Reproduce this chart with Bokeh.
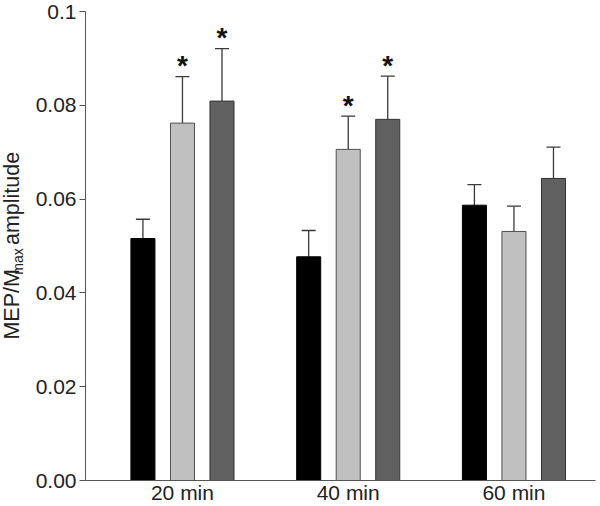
import math
from bokeh.plotting import figure
from bokeh.layouts import row
from bokeh.models import (ColumnDataSource, Range1d, FixedTicker, Whisker, TeeHead)
from bokeh.core.properties import value
from bokeh.embed import file_html
from bokeh.resources import INLINE

# ---- data ----
times = ["20 min", "40 min", "60 min"]
black_vals = [0.0516, 0.0477, 0.0587]
black_err = [0.0557, 0.0533, 0.0631]
light_vals = [0.0762, 0.0706, 0.0531]
light_err = [0.0861, 0.0777, 0.0585]
dark_vals = [0.0809, 0.0770, 0.0644]
dark_err = [0.0921, 0.0862, 0.0711]
light_sig = [True, True, False]
dark_sig = [True, True, False]
y_ticks = [0.0, 0.02, 0.04, 0.06, 0.08, 0.1]
y_tick_labels = ["0.00", "0.02", "0.04", "0.06", "0.08", "0.1"]
y_title_parts = ["MEP/M", "max", "amplitude"]

FONT = "Liberation Sans"
TXT = "#222222"
group_pos = [1, 2, 3]
offset = 0.2385
bar_w = 0.145

# ---- main chart ----
p = figure(width=570, height=506, output_backend="svg", toolbar_location=None,
           x_range=Range1d(0.415, 3.492), y_range=Range1d(0, 0.1),
           min_border_left=55, min_border_right=5, min_border_top=11, min_border_bottom=25)
p.outline_line_color = None
p.xgrid.visible = False
p.ygrid.visible = False

series = [
    (black_vals, black_err, -offset, "#000000", "#000000", [False] * 3),
    (light_vals, light_err, 0.0, "#c0c0c0", "#505050", light_sig),
    (dark_vals, dark_err, offset, "#606060", "#333333", dark_sig),
]
for vals, errs, off, fill, line, sig in series:
    xs = [g + off for g in group_pos]
    src = ColumnDataSource(dict(x=xs, top=vals, err=errs))
    p.vbar(x="x", top="top", width=bar_w, bottom=0, source=src,
           fill_color=fill, line_color=line, line_width=1)
    w = Whisker(base="x", lower="top", upper="err", source=src,
                line_color="#3a3a3a", line_width=1.3,
                upper_head=TeeHead(size=14, line_color="#3a3a3a", line_width=1.3),
                lower_head=None)
    p.add_layout(w)
    sx = [x for x, s in zip(xs, sig) if s]
    sy = [e for e, s in zip(errs, sig) if s]
    if sx:
        p.text(x=sx, y=sy, text=["*"] * len(sx), text_align="center",
               text_baseline="alphabetic", y_offset=-11,
               text_font=value(FONT), text_font_style="bold",
               text_font_size="28px", text_color="#111111")

ya = p.yaxis[0]
ya.ticker = FixedTicker(ticks=y_ticks)
ya.major_label_overrides = {t: l for t, l in zip(y_ticks, y_tick_labels)}
ya.minor_tick_line_color = None
ya.major_tick_in = 0
ya.major_tick_out = 6
ya.major_label_standoff = 3
ya.axis_line_color = "#555555"
ya.major_tick_line_color = "#555555"
ya.major_label_text_font = FONT
ya.major_label_text_font_size = "21px"
ya.major_label_text_color = TXT

xa = p.xaxis[0]
xa.ticker = FixedTicker(ticks=group_pos)
xa.major_label_overrides = {g: t for g, t in zip(group_pos, times)}
xa.minor_tick_line_color = None
xa.major_tick_in = 0
xa.major_tick_out = 0
xa.major_tick_line_color = None
xa.major_label_standoff = 0
xa.axis_line_color = "#555555"
xa.major_label_text_font = FONT
xa.major_label_text_font_size = "21px"
xa.major_label_text_color = TXT

# ---- y-axis title strip (MEP/M_max amplitude) ----
t = figure(width=30, height=506, output_backend="svg", toolbar_location=None,
           x_range=Range1d(0, 30), y_range=Range1d(0, 506),
           x_axis_type=None, y_axis_type=None,
           min_border_left=0, min_border_right=0, min_border_top=0, min_border_bottom=0)
t.outline_line_color = None
t.grid.visible = False
ang = math.pi / 2
t.text(x=[11], y=[152], text=[y_title_parts[0]], angle=ang,
       text_font=value(FONT), text_font_size="21.5px", text_color=TXT,
       text_align="left", text_baseline="alphabetic")
t.text(x=[17], y=[222], text=[y_title_parts[1]], angle=ang,
       text_font=value(FONT), text_font_size="14px", text_color=TXT,
       text_align="left", text_baseline="alphabetic")
t.text(x=[11], y=[254], text=[y_title_parts[2]], angle=ang,
       text_font=value(FONT), text_font_size="21.5px", text_color=TXT,
       text_align="left", text_baseline="alphabetic")

layout = row(t, p)
open("out.html", "w").write(file_html(layout, INLINE))
